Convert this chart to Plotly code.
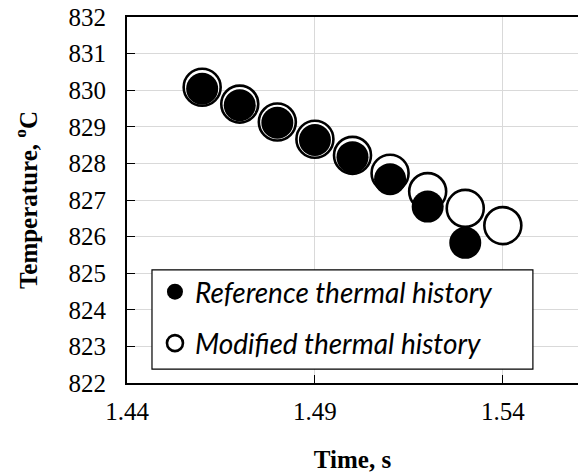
import plotly.graph_objects as go

time_ref = [1.46, 1.47, 1.48, 1.49, 1.50, 1.51, 1.52, 1.53]
temp_ref = [830.04, 829.59, 829.11, 828.64, 828.17, 827.57, 826.82, 825.83]
time_mod = [1.46, 1.47, 1.48, 1.49, 1.50, 1.51, 1.52, 1.53, 1.54]
temp_mod = [830.08, 829.62, 829.13, 828.66, 828.22, 827.73, 827.23, 826.77, 826.30]
x_ticks = [1.44, 1.49, 1.54]
x_tick_text = ["1.44", "1.49", "1.54"]
y_ticks = list(range(822, 833))

fig = go.Figure()
fig.add_trace(go.Scatter(
    x=time_mod, y=temp_mod, mode="markers", name="Modified thermal history",
    legendgroup="b", legendrank=2,
    marker=dict(size=37, color="white", line=dict(color="black", width=2.6)),
))
fig.add_trace(go.Scatter(
    x=time_ref, y=temp_ref, mode="markers", name="Reference thermal history",
    legendgroup="a", legendrank=1,
    marker=dict(size=32, color="black", line=dict(width=0)),
))

serif = "Liberation Serif"
fig.update_layout(
    width=578, height=476,
    margin=dict(l=127, r=0, t=17, b=93),
    plot_bgcolor="white", paper_bgcolor="white",
    showlegend=True,
    legend=dict(
        x=0.062, y=0.317, xanchor="left", yanchor="top",
        borderwidth=0, bgcolor="rgba(0,0,0,0)",
        font=dict(family="Lato", size=28, style="italic", color="black"),
        traceorder="grouped", tracegroupgap=12,
    ),
    shapes=[dict(
        type="rect", xref="paper", yref="paper",
        x0=0.0554, x1=0.900, y0=0.038, y1=0.309,
        line=dict(color="black", width=1.2), fillcolor="white", layer="above",
    )],
    xaxis=dict(
        range=[1.44, 1.56], tickvals=x_ticks, ticktext=x_tick_text,
        showgrid=True, gridcolor="#d9d9d9", gridwidth=1,
        showline=True, linecolor="black", linewidth=2, mirror=True,
        ticks="inside", ticklen=8, tickcolor="black", tickwidth=1,
        ticklabelstandoff=5,
        tickfont=dict(family=serif, size=25, color="black"),
        title=dict(text="<b>Time, s</b>", font=dict(family=serif, size=25, color="black"), standoff=26),
        zeroline=False,
    ),
    yaxis=dict(
        range=[822, 832], tickvals=y_ticks,
        showgrid=True, gridcolor="#d9d9d9", gridwidth=1,
        showline=True, linecolor="black", linewidth=2, mirror=False,
        ticks="inside", ticklen=8, tickcolor="black", tickwidth=1,
        ticklabelstandoff=14,
        tickfont=dict(family=serif, size=25, color="black"),
        title=dict(text="<b>Temperature, <sup>o</sup>C</b>", font=dict(family=serif, size=25, color="black"), standoff=24),
        zeroline=False,
    ),
)
fig.write_html("out.html")
